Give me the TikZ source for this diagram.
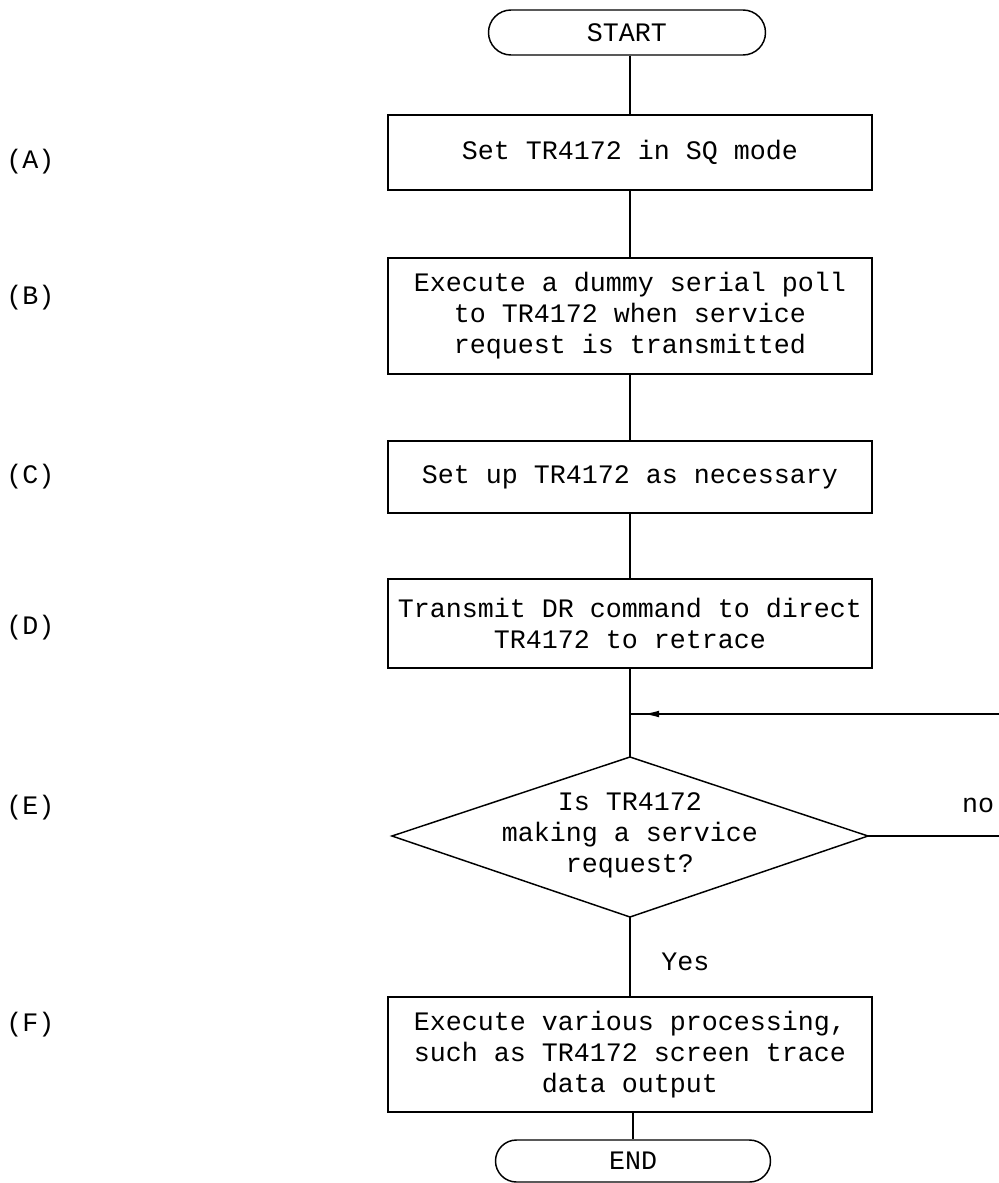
\documentclass[tikz,border=0pt]{standalone}
\usepackage{fontspec}
\setmainfont{Liberation Mono}
\usetikzlibrary{shapes.misc,arrows.meta}
\begin{document}
\begin{tikzpicture}[x=0.75pt,y=-0.75pt,
  every node/.style={font=\fontsize{20}{23.25}\selectfont, inner sep=0pt},
  stepbox/.style={draw, line width=1.1pt, minimum width=363pt, align=center},
  term/.style={draw, line width=1.1pt, rounded rectangle, align=center},
  conn/.style={line width=1.2pt},
  lbl/.style={anchor=west}]
\useasboundingbox (0,0) rectangle (999,1183);

% terminals and process boxes
\node[term, minimum width=207.75pt, minimum height=33.75pt] (start) at (627,32.5) {START};
\node[stepbox, minimum height=56.25pt] (A) at (630,152.5) {Set TR4172 in SQ mode};
\node[stepbox, minimum height=87pt] (B) at (630,316) {Execute a dummy serial poll\\to TR4172 when service\\request is transmitted};
\node[stepbox, minimum height=54pt] (C) at (630,477) {Set up TR4172 as necessary};
\node[stepbox, minimum height=66.75pt] (D) at (630,623.5) {Transmit DR command to direct\\TR4172 to retrace};

% decision
\coordinate (dtop) at (630,757);
\coordinate (dright) at (868,836);
\coordinate (dbot) at (630,917);
\coordinate (dleft) at (392,836);
\draw[line width=1.1pt] (dtop) -- (dright) -- (dbot) -- (dleft) -- cycle;
\node[align=center] (E) at (630,835) {Is TR4172\\making a service\\request?};

\node[stepbox, minimum height=86.25pt] (F) at (630,1054.5) {Execute various processing,\\such as TR4172 screen trace\\data output};
\node[term, minimum width=206.25pt, minimum height=31.5pt] (end) at (633,1161) {END};

% connectors
\coordinate (J) at (630,714);
\coordinate (loopR) at (999,714);
\coordinate (tipL) at (643,714);
\coordinate (noR) at (999,836);
\draw[conn] (start.south -| A.north) -- (A.north);
\draw[conn] (A) -- (B);
\draw[conn] (B) -- (C);
\draw[conn] (C) -- (D);
\draw[conn] (D.south) -- (J) -- (dtop);
\draw[conn] (loopR) -- (J);
\draw[conn, -{Latex[length=12pt,width=5pt]}] (loopR) -- (tipL);
\draw[conn] (dright) -- (noR);
\draw[conn] (dbot) -- (F.north);
\draw[conn] (F.south -| end.north) -- (end.north);

% branch labels
\node (no) at (978,805) {no};
\node[anchor=west] (yes) at (661,962) {Yes};

% step labels
\node[lbl] (lA) at (6,162) {(A)};
\node[lbl] (lB) at (6,298) {(B)};
\node[lbl] (lC) at (6,477) {(C)};
\node[lbl] (lD) at (6,628) {(D)};
\node[lbl] (lE) at (6,808) {(E)};
\node[lbl] (lF) at (6,1025) {(F)};
\end{tikzpicture}
\end{document}
